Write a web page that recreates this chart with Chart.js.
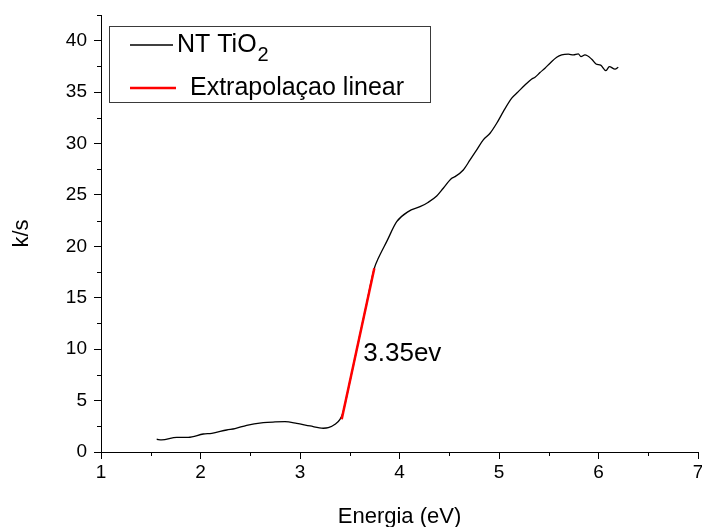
<!DOCTYPE html>
<html>
<head>
<meta charset="utf-8">
<script src="https://cdn.jsdelivr.net/npm/chart.js@4/dist/chart.umd.min.js"></script>
<style>
  html, body { margin: 0; padding: 0; background: #ffffff; }
  #wrap { width: 702px; height: 527px; }
</style>
</head>
<body>
<div id="wrap"><canvas id="c" width="702" height="527"></canvas></div>
<script>
// ---------- data ----------
const energyEV = [
  1.560, 1.610, 1.761, 1.877, 2.028, 2.113, 2.263, 2.347, 2.464, 2.631,
  2.749, 2.849, 2.967, 3.101, 3.234, 3.284, 3.352, 3.402, 3.429, 3.503,
  3.583, 3.663, 3.747, 3.787, 3.871, 3.972, 4.088, 4.206, 4.286, 4.374,
  4.440, 4.525, 4.558, 4.641, 4.709, 4.776, 4.842, 4.910, 4.977, 5.043,
  5.128, 5.194, 5.261, 5.329, 5.362, 5.412, 5.462, 5.513, 5.580, 5.630,
  5.697, 5.747, 5.797, 5.824, 5.864, 5.932, 5.975, 6.022, 6.075, 6.109,
  6.166, 6.199
];
const countsKs = [
  1.24, 1.17, 1.43, 1.43, 1.75, 1.82, 2.14, 2.27, 2.60, 2.85,
  2.92, 2.95, 2.79, 2.53, 2.31, 2.36, 2.69, 3.18, 3.76, 6.93,
  10.54, 14.13, 17.87, 18.84, 20.46, 22.40, 23.38, 23.86, 24.27, 24.90,
  25.65, 26.62, 26.78, 27.43, 28.40, 29.38, 30.35, 31.00, 31.97, 33.10,
  34.41, 35.05, 35.70, 36.28, 36.45, 36.90, 37.33, 37.81, 38.39, 38.62,
  38.69, 38.62, 38.72, 38.45, 38.62, 38.20, 37.74, 37.62, 37.09, 37.48,
  37.23, 37.42
];
const fitEnergyEV = [3.419, 3.747];
const fitCountsKs = [3.18, 17.87];
const seriesLabels = ['NT TiO2', 'Extrapolaçao linear'];
const xTickValues = [1, 2, 3, 4, 5, 6, 7];
const yTickValues = [0, 5, 10, 15, 20, 25, 30, 35, 40];
const xMinorTicks = [1.5, 2.5, 3.5, 4.5, 5.5, 6.5];
const yMinorTicks = [2.5, 7.5, 12.5, 17.5, 22.5, 27.5, 32.5, 37.5, 42.5];
const xAxisTitle = 'Energia (eV)';
const yAxisTitle = 'k/s';
const annotationText = '3.35ev';
const annotationAt = [3.636, 9.53];

// ---------- styling ----------
const FONT = '"Liberation Sans", Arial, Helvetica, sans-serif';

const minorTicksPlugin = {
  id: 'minorTicks',
  afterDraw(chart) {
    const ctx = chart.ctx;
    const xs = chart.scales.x, ys = chart.scales.y;
    ctx.save();
    ctx.strokeStyle = '#000';
    ctx.lineWidth = 1;
    ctx.beginPath();
    xMinorTicks.forEach(v => {
      const px = Math.round(xs.getPixelForValue(v)) + 0.5;
      ctx.moveTo(px, ys.bottom);
      ctx.lineTo(px, ys.bottom + 4);
    });
    yMinorTicks.forEach(v => {
      const py = Math.round(ys.getPixelForValue(v)) + 0.5;
      ctx.moveTo(xs.left, py);
      ctx.lineTo(xs.left - 4, py);
    });
    ctx.stroke();
    ctx.restore();
  }
};

const annotationPlugin = {
  id: 'bandGapLabel',
  afterDatasetsDraw(chart) {
    const ctx = chart.ctx;
    const px = chart.scales.x.getPixelForValue(annotationAt[0]);
    const py = chart.scales.y.getPixelForValue(annotationAt[1]);
    ctx.save();
    ctx.fillStyle = '#000';
    ctx.font = '26px ' + FONT;
    ctx.textAlign = 'left';
    ctx.textBaseline = 'middle';
    ctx.fillText(annotationText, px, py);
    ctx.restore();
  }
};

const boxLegendPlugin = {
  id: 'boxLegend',
  afterDraw(chart) {
    const ctx = chart.ctx;
    const box = { x: 109.5, y: 26.5, w: 321, h: 76 };
    const rows = [
      { lineStart: 130, lineEnd: 173, textX: 177, baseline: 52 },
      { lineStart: 130, lineEnd: 176, textX: 190, baseline: 95 }
    ];
    ctx.save();
    ctx.strokeStyle = '#3a3a3a';
    ctx.lineWidth = 1;
    ctx.strokeRect(box.x, box.y, box.w, box.h);
    chart.data.datasets.forEach((ds, i) => {
      const r = rows[i];
      const ly = r.baseline - 7;
      ctx.strokeStyle = ds.borderColor;
      ctx.lineWidth = ds.borderWidth;
      ctx.beginPath();
      ctx.moveTo(r.lineStart, ly);
      ctx.lineTo(r.lineEnd, ly);
      ctx.stroke();
      ctx.fillStyle = '#000';
      ctx.textAlign = 'left';
      ctx.textBaseline = 'alphabetic';
      const m = /^(.*\D)(\d+)$/.exec(ds.label);
      if (m) {
        ctx.font = '25px ' + FONT;
        ctx.fillText(m[1], r.textX, r.baseline);
        const w = ctx.measureText(m[1]).width;
        ctx.font = '20px ' + FONT;
        ctx.fillText(m[2], r.textX + w + 1, r.baseline + 9);
      } else {
        ctx.font = '25px ' + FONT;
        ctx.fillText(ds.label, r.textX, r.baseline);
      }
    });
    ctx.restore();
  }
};

const toPoints = (xs, ys) => xs.map((x, i) => ({ x: x, y: ys[i] }));

new Chart(document.getElementById('c'), {
  type: 'scatter',
  data: {
    datasets: [
      {
        label: seriesLabels[0],
        data: toPoints(energyEV, countsKs),
        showLine: true,
        borderColor: '#000000',
        backgroundColor: '#000000',
        borderWidth: 1.3,
        pointRadius: 0,
        cubicInterpolationMode: 'monotone',
        order: 1
      },
      {
        label: seriesLabels[1],
        data: toPoints(fitEnergyEV, fitCountsKs),
        showLine: true,
        borderColor: '#ff0000',
        backgroundColor: '#ff0000',
        borderWidth: 2.5,
        pointRadius: 0,
        order: 0
      }
    ]
  },
  options: {
    responsive: false,
    devicePixelRatio: 1,
    animation: false,
    layout: { padding: { top: 15, right: 4, left: 0, bottom: 0 } },
    plugins: {
      legend: { display: false },
      tooltip: { enabled: false }
    },
    scales: {
      x: {
        type: 'linear',
        min: 1,
        max: 7,
        afterBuildTicks(s) { s.ticks = xTickValues.map(v => ({ value: v })); },
        afterFit(s) { s.height = 75; s.paddingLeft = 0; s.paddingRight = 0; },
        border: { display: true, color: '#000', width: 1 },
        grid: { drawOnChartArea: false, drawTicks: true, tickLength: 7, color: '#000', tickColor: '#000', tickWidth: 1 },
        ticks: { color: '#000', font: { family: FONT, size: 19 }, padding: 2, maxRotation: 0, autoSkip: false, includeBounds: false },
        title: { display: true, text: xAxisTitle, color: '#000', font: { family: FONT, size: 22 }, padding: { top: 0, bottom: -3 } }
      },
      y: {
        type: 'linear',
        min: 0,
        max: 42.5,
        afterBuildTicks(s) { s.ticks = yTickValues.map(v => ({ value: v })); },
        afterFit(s) { s.width = 101; s.paddingTop = 0; s.paddingBottom = 0; },
        border: { display: true, color: '#000', width: 1 },
        grid: { drawOnChartArea: false, drawTicks: true, tickLength: 7, color: '#000', tickColor: '#000', tickWidth: 1 },
        ticks: { color: '#000', font: { family: FONT, size: 19 }, padding: 7, autoSkip: false, includeBounds: false },
        title: { display: true, text: yAxisTitle, color: '#000', font: { family: FONT, size: 22 }, padding: { top: 9, bottom: 0 } }
      }
    }
  },
  plugins: [minorTicksPlugin, annotationPlugin, boxLegendPlugin]
});
</script>
</body>
</html>
